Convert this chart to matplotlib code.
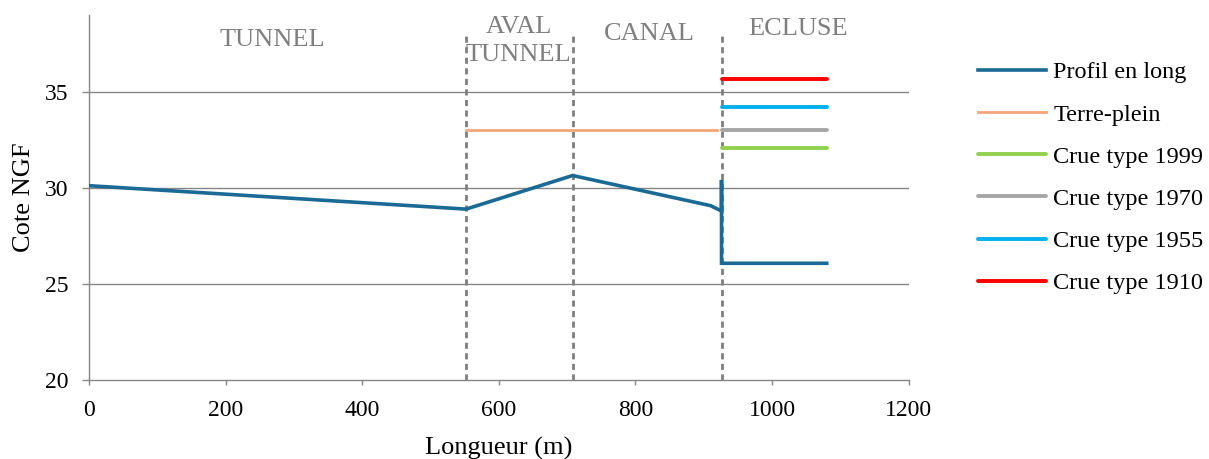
import matplotlib
matplotlib.use("Agg")
import matplotlib.pyplot as plt

plt.rcParams['font.family'] = ['Liberation Serif', 'DejaVu Serif']

# Data
profil_x = [0, 552, 708, 910, 926, 926, 926, 1080]
profil_y = [30.12, 28.9, 30.65, 29.08, 28.8, 30.42, 26.08, 26.08]

terre_x = [552, 920]
terre_y = [33.0, 33.0]

crue_x = [926, 1080]
crue_labels = ["Crue type 1999", "Crue type 1970", "Crue type 1955", "Crue type 1910"]
crue_levels = [32.1, 33.0, 34.2, 35.7]
crue_colors = ["#92D050", "#A6A6A6", "#00B0F0", "#FF0000"]

section_x = [552, 708, 926]
section_labels = ["TUNNEL", "AVAL\nTUNNEL", "CANAL", "ECLUSE"]
section_label_x = [268, 629, 821, 1038]
section_label_y = [37.38, 36.6, 37.69, 37.95]

fig = plt.figure(figsize=(12.09, 4.59), dpi=100)
ax = fig.add_axes([0.0736, 0.172, 0.678, 0.795])

grid_c = "#868686"
ax.set_xlim(0, 1200)
ax.set_ylim(20, 39)
ax.set_xticks(range(0, 1201, 200))
ax.set_yticks([20, 25, 30, 35])
for yv in [25, 30, 35]:
    ax.axhline(yv, color=grid_c, lw=1.0, zorder=1)

for sx in section_x:
    ax.plot([sx, sx], [20, 38], color="#7F7F7F", lw=2, ls=(0, (2.2, 1.6)), zorder=2)

ax.plot(profil_x, profil_y, color="#1A6A95", lw=2.6, label="Profil en long", zorder=4,
        solid_joinstyle='miter')
ax.plot(terre_x, terre_y, color="#F4A57A", lw=2.0, label="Terre-plein", zorder=3)
for lab, lev, col in zip(crue_labels, crue_levels, crue_colors):
    ax.plot(crue_x, [lev, lev], color=col, lw=2.8, label=lab, zorder=3,
            solid_capstyle='round')

for lab, lx, ly in zip(section_labels, section_label_x, section_label_y):
    ax.text(lx, ly, lab, ha='center', va='baseline', fontsize=19, color="#7F7F7F",
            linespacing=1.37, multialignment='center')

for s in ['top', 'right']:
    ax.spines[s].set_visible(False)
for s in ['left', 'bottom']:
    ax.spines[s].set_color(grid_c)
    ax.spines[s].set_linewidth(1.0)
ax.tick_params(axis='both', colors=grid_c, width=1.0, labelsize=17,
               labelcolor='black')
ax.tick_params(axis='y', length=5, pad=10)
ax.tick_params(axis='x', length=3.6, pad=11)

ax.set_xlabel("Longueur (m)", fontsize=19, labelpad=11)
ax.set_ylabel("Cote NGF", fontsize=19, labelpad=7)

leg = ax.legend(loc='upper left', bbox_to_anchor=(1.073, 0.9), frameon=False,
                fontsize=17.5, handlelength=2.8, handletextpad=0.28,
                labelspacing=0.83, borderaxespad=0)

fig.savefig("out.png", dpi=100)
